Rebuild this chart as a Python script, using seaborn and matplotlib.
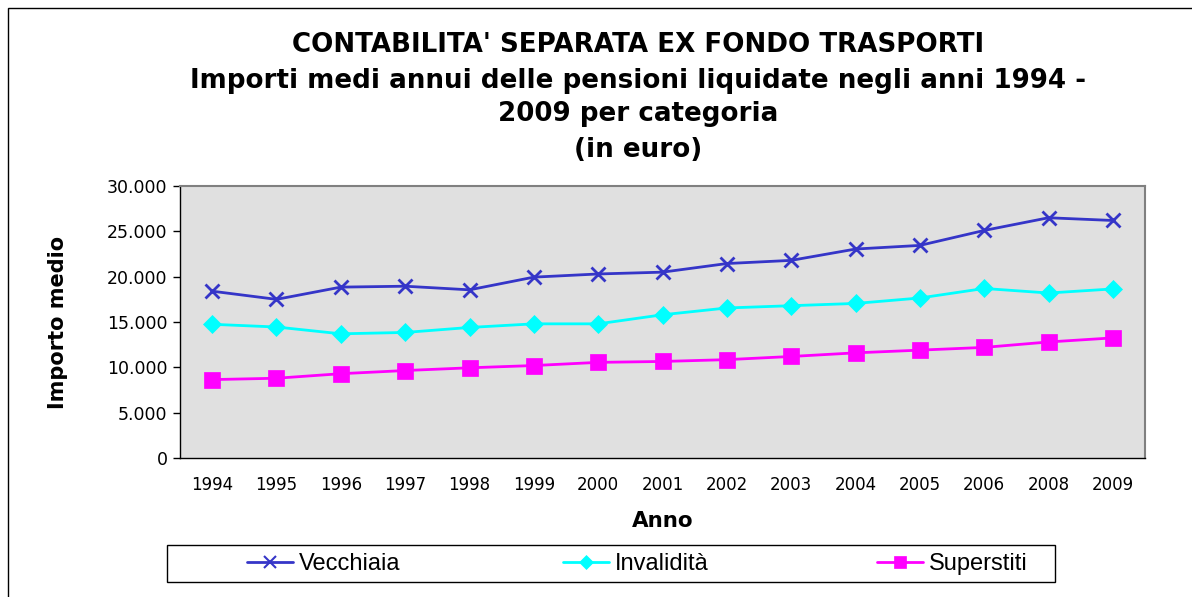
import matplotlib
matplotlib.use("Agg")
import matplotlib.pyplot as plt
import matplotlib.ticker as mticker
import pandas as pd
import seaborn as sns
from matplotlib.patches import Rectangle

# Data (2007 is missing in the source)
anni = ['1994', '1995', '1996', '1997', '1998', '1999', '2000', '2001',
        '2002', '2003', '2004', '2005', '2006', '2008', '2009']
vecchiaia = [18400, 17500, 18850, 18950, 18550, 19950, 20300, 20500,
             21450, 21800, 23050, 23450, 25100, 26500, 26200]
invalidita = [14750, 14450, 13700, 13850, 14400, 14800, 14800, 15800,
              16550, 16800, 17050, 17650, 18700, 18200, 18650]
superstiti = [8650, 8800, 9300, 9650, 9950, 10200, 10550, 10650,
              10850, 11200, 11600, 11900, 12200, 12800, 13250]

serie = {'Vecchiaia': vecchiaia, 'Invalidità': invalidita, 'Superstiti': superstiti}
colori = {'Vecchiaia': '#3535C8', 'Invalidità': '#00FFFF', 'Superstiti': '#FF00FF'}
marker = {'Vecchiaia': 'x', 'Invalidità': 'D', 'Superstiti': 's'}
msize = {'Vecchiaia': 10, 'Invalidità': 9, 'Superstiti': 11}
medge = {'Vecchiaia': 2, 'Invalidità': 0.5, 'Superstiti': 0.5}

sns.set_style('white', rc={'text.color': 'black', 'axes.labelcolor': 'black',
                           'xtick.color': 'black', 'ytick.color': 'black'})
plt.rcParams['font.family'] = ['DejaVu Sans']

fig = plt.figure(figsize=(11.92, 5.97), dpi=100)
ax = fig.add_axes([0.151, 0.2328, 0.8096, 0.4556])
ax.set_facecolor('#E0E0E0')

for nome, valori in serie.items():
    d = pd.DataFrame({'Anno': anni, 'Importo': valori})
    sns.lineplot(data=d, x='Anno', y='Importo', color=colori[nome], marker=marker[nome],
                 markersize=msize[nome], markeredgewidth=medge[nome],
                 markeredgecolor=colori[nome], linewidth=2, sort=False, ax=ax)

ax.set_xlim(-0.5, len(anni) - 0.5)
ax.set_ylim(0, 30000)
ax.yaxis.set_major_locator(mticker.MultipleLocator(5000))
ax.yaxis.set_major_formatter(mticker.FuncFormatter(lambda v, p: f'{int(v):,}'.replace(',', '.')))
ax.set_xticks(range(len(anni)))
ax.set_xticklabels(anni)
ax.set_xticks([i - 0.5 for i in range(len(anni) + 1)], minor=True)
ax.tick_params(axis='x', which='major', length=0, pad=13, labelsize=12)
ax.tick_params(axis='x', which='minor', length=5, width=1, color='black', direction='out')
ax.tick_params(axis='y', length=5, width=1, color='black', direction='out', labelsize=12.5,
               pad=4, left=True)

for side in ['top', 'right']:
    ax.spines[side].set_color('#808080')
    ax.spines[side].set_linewidth(1.5)
for side in ['left', 'bottom']:
    ax.spines[side].set_color('black')
    ax.spines[side].set_linewidth(1)

ax.set_xlabel('Anno', fontsize=15.5, fontweight='bold', labelpad=12)
ax.set_ylabel('Importo medio', fontsize=15, fontweight='bold', labelpad=28)

# title, four centred lines
titoli = ["CONTABILITA' SEPARATA EX FONDO TRASPORTI",
          "Importi medi annui delle pensioni liquidate negli anni 1994 -",
          "2009 per categoria",
          "(in euro)"]
ys = [45, 81, 114, 150]
for t, y in zip(titoli, ys):
    fig.text(638 / 1192, 1 - y / 597, t, ha='center', va='center',
             fontsize=18.8, fontweight='bold')

# legend: one entry per series, placed inside a common box below the plot
starts = [247, 563, 877]
for (nome, _), x0 in zip(serie.items(), starts):
    h = plt.Line2D([], [], color=colori[nome], marker=marker[nome], lw=2,
                   markersize=8 if nome != 'Invalidità' else 7,
                   markeredgewidth=1.5 if nome == 'Vecchiaia' else 0.5,
                   markeredgecolor=colori[nome])
    fig.legend([h], [nome], loc='center left', bbox_to_anchor=(x0 / 1192, 1 - 564 / 597),
               frameon=False, handlelength=1.95, handletextpad=0.25, borderpad=0,
               borderaxespad=0, prop={'family': 'Liberation Sans', 'size': 17})
fig.patches.append(Rectangle((167 / 1192, 1 - 582 / 597), 888 / 1192, 37 / 597,
                             transform=fig.transFigure, fill=False,
                             edgecolor='black', linewidth=1))

# outer chart frame
fig.patches.append(Rectangle((0.007, -0.05), 1.1, 1.037, transform=fig.transFigure,
                             fill=False, edgecolor='black', linewidth=1))

fig.savefig('out.png', dpi=100)
